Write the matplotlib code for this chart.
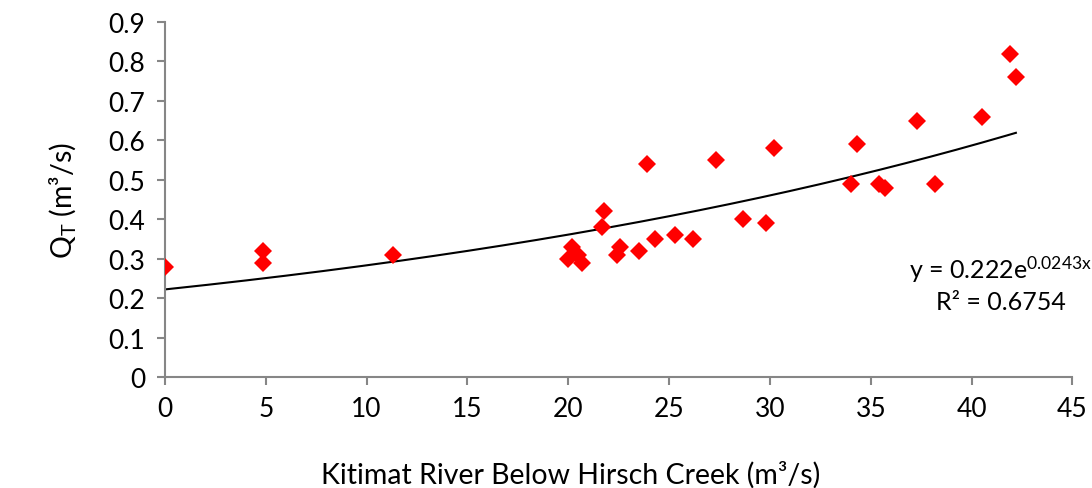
import numpy as np
import matplotlib
matplotlib.use('Agg')
import matplotlib.pyplot as plt

plt.rcParams['font.family'] = ['Lato', 'DejaVu Sans']
plt.rcParams['mathtext.fontset'] = 'custom'
plt.rcParams['mathtext.rm'] = 'Lato'
plt.rcParams['mathtext.it'] = 'Lato'

# Kitimat River flow (m3/s) vs Q_T (m3/s)
flow = [0.0, 4.87, 4.87, 11.3, 19.97, 20.2, 20.5, 20.7, 21.76, 21.7,
        22.55, 22.4, 23.5, 24.3, 25.3, 26.2, 23.9, 27.35, 30.2, 28.65,
        29.8, 34.3, 34.0, 35.4, 35.7, 38.2, 37.3, 40.5, 41.9, 42.2]
qt = [0.28, 0.32, 0.29, 0.31, 0.30, 0.33, 0.31, 0.29, 0.42, 0.38,
      0.33, 0.31, 0.32, 0.35, 0.36, 0.35, 0.54, 0.55, 0.58, 0.40,
      0.39, 0.59, 0.49, 0.49, 0.48, 0.49, 0.65, 0.66, 0.82, 0.76]

fit_a = 0.222
fit_b = 0.0243
r2 = 0.6754

grey = '#868686'

fig = plt.figure(figsize=(10.92, 4.89), dpi=100)
ax = fig.add_axes([0.151, 0.227, 0.831, 0.726])

ax.plot(flow, qt, 'D', color='#ff0000', markersize=9, markeredgewidth=0, zorder=3)

xs = np.linspace(0, max(flow), 200)
ax.plot(xs, fit_a * np.exp(fit_b * xs), color='black', linewidth=1.5, zorder=2)

ax.set_xlim(0, 45)
ax.set_ylim(0, 0.9)
ax.set_xticks(np.arange(0, 46, 5))
ax.set_yticks(np.arange(0, 0.91, 0.1))
ax.set_yticklabels(['0'] + ['%.1f' % v for v in np.arange(0.1, 0.91, 0.1)])

for s in ['top', 'right']:
    ax.spines[s].set_visible(False)
for s in ['left', 'bottom']:
    ax.spines[s].set_color(grey)
    ax.spines[s].set_linewidth(1.5)
ax.tick_params(axis='both', colors=grey, direction='out', length=6, width=1.5,
               labelcolor='black', labelsize=19, pad=8)

ax.set_xlabel('Kitimat River Below Hirsch Creek (m³/s)', fontsize=20.5)
ax.xaxis.set_label_coords(0.447, -0.235)
ax.set_ylabel('Q$_\\mathrm{T}$ (m³/s)', fontsize=20.5, labelpad=22)

ax.text(41.45, 0.275, 'y = 0.222e$^{0.0243x}$', fontsize=18, ha='center', va='center')
ax.text(41.45, 0.192, 'R² = 0.6754', fontsize=18, ha='center', va='center')

fig.savefig('out.png', dpi=100)
